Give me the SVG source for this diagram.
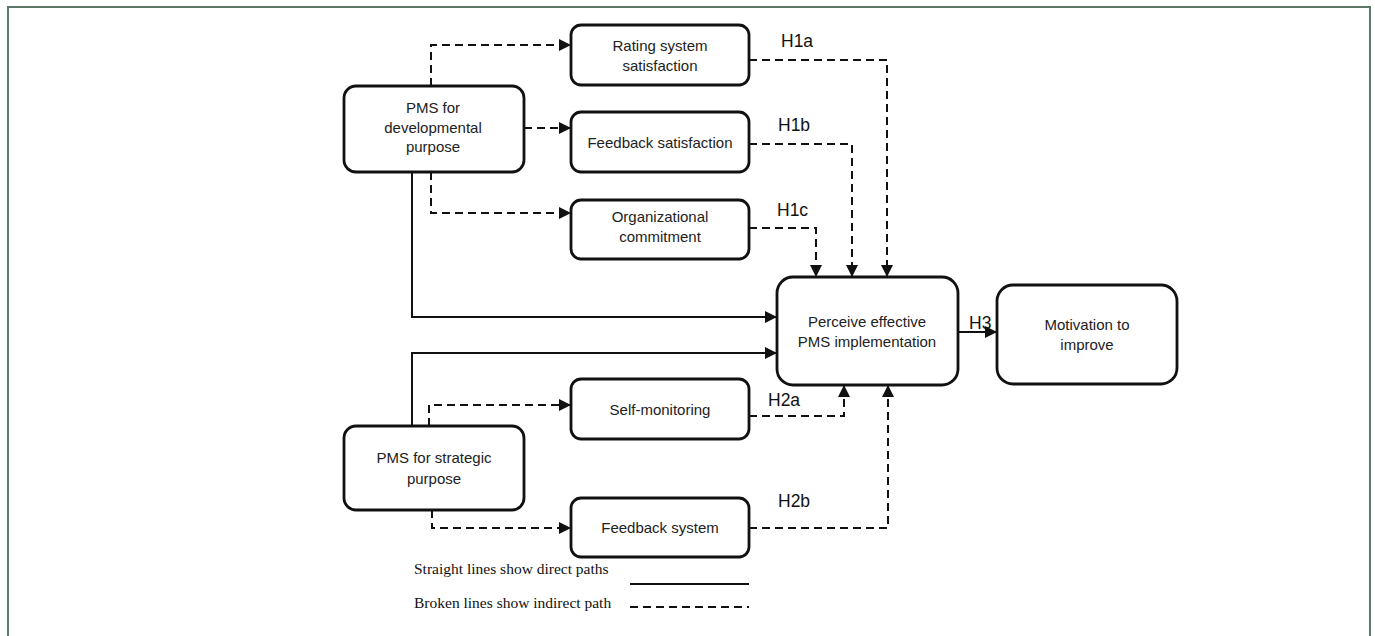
<svg xmlns="http://www.w3.org/2000/svg" width="1375" height="636" viewBox="0 0 1375 636">
<style>
.box{fill:#fff;stroke:#111;stroke-width:2.8}
.t{font-family:"Liberation Sans",Arial,sans-serif;font-size:15px;fill:#222;text-anchor:middle}
.h{font-family:"Liberation Sans",Arial,sans-serif;font-size:17.5px;fill:#111}
.lg{font-family:"Liberation Serif","Times New Roman",serif;font-size:15.5px;fill:#111}
.c{fill:none;stroke:#111;stroke-width:2}
.d{stroke-dasharray:8 5}
</style>
<defs>
<marker id="ah" markerUnits="userSpaceOnUse" markerWidth="12" markerHeight="12" refX="10" refY="5" orient="auto" viewBox="0 0 10 10">
<path d="M0,0 L10,5 L0,10 Z" fill="#111"/>
</marker>
</defs>
<rect width="1375" height="636" fill="#fff"/>
<path d="M8,636 V7 H1370 V636" fill="none" stroke="#5b7868" stroke-width="2"/>

<g id="connectors">
<path class="c d" d="M431,86 V45 H571" marker-end="url(#ah)"/>
<path class="c d" d="M524,128 H571" marker-end="url(#ah)"/>
<path class="c d" d="M431,172 V213 H571" marker-end="url(#ah)"/>
<path class="c d" d="M749,60 H887 V277" marker-end="url(#ah)"/>
<path class="c d" d="M749,144 H852 V277" marker-end="url(#ah)"/>
<path class="c d" d="M749,228 H816 V277" marker-end="url(#ah)"/>
<path class="c d" d="M429,426 V405 H571" marker-end="url(#ah)"/>
<path class="c d" d="M432,510 V528 H571" marker-end="url(#ah)"/>
<path class="c d" d="M749,416 H844 V385" marker-end="url(#ah)"/>
<path class="c d" d="M749,528 H888 V385" marker-end="url(#ah)"/>
<path class="c" d="M412,172 V317 H777" marker-end="url(#ah)"/>
<path class="c" d="M412,426 V353 H777" marker-end="url(#ah)"/>
<path class="c" d="M958,332 H997" marker-end="url(#ah)"/>
</g>

<g id="dev">
<rect class="box" x="344" y="86" width="180" height="86" rx="12"/>
<text class="t" x="433" y="113">PMS for</text>
<text class="t" x="433" y="133">developmental</text>
<text class="t" x="433" y="152">purpose</text>
</g>
<g id="rating">
<rect class="box" x="571" y="25" width="178" height="60" rx="10"/>
<text class="t" x="660" y="51">Rating system</text>
<text class="t" x="660" y="71">satisfaction</text>
</g>
<g id="fbsat">
<rect class="box" x="571" y="112" width="178" height="60" rx="10"/>
<text class="t" x="660" y="148">Feedback satisfaction</text>
</g>
<g id="org">
<rect class="box" x="571" y="200" width="178" height="59" rx="10"/>
<text class="t" x="660" y="222">Organizational</text>
<text class="t" x="660" y="242">commitment</text>
</g>
<g id="perceive">
<rect class="box" x="777" y="277" width="181" height="108" rx="16"/>
<text class="t" x="867" y="327">Perceive effective</text>
<text class="t" x="867" y="347">PMS implementation</text>
</g>
<g id="motivation">
<rect class="box" x="997" y="285" width="180" height="99" rx="16"/>
<text class="t" x="1087" y="330">Motivation to</text>
<text class="t" x="1087" y="350">improve</text>
</g>
<g id="selfmon">
<rect class="box" x="571" y="379" width="178" height="60" rx="10"/>
<text class="t" x="660" y="415">Self-monitoring</text>
</g>
<g id="strategic">
<rect class="box" x="344" y="426" width="180" height="84" rx="12"/>
<text class="t" x="434" y="463">PMS for strategic</text>
<text class="t" x="434" y="484">purpose</text>
</g>
<g id="fbsys">
<rect class="box" x="571" y="498" width="178" height="59" rx="10"/>
<text class="t" x="660" y="533">Feedback system</text>
</g>

<g id="labels">
<text class="h" x="781" y="47">H1a</text>
<text class="h" x="778" y="131">H1b</text>
<text class="h" x="777" y="216">H1c</text>
<text class="h" x="768" y="406">H2a</text>
<text class="h" x="778" y="507">H2b</text>
<text class="h" x="969" y="329">H3</text>
</g>

<g id="legend">
<text class="lg" x="414" y="574">Straight lines show direct paths</text>
<line class="c" x1="630" y1="584" x2="749" y2="584"/>
<text class="lg" x="414" y="608">Broken lines show indirect path</text>
<line class="c d" x1="630" y1="607" x2="749" y2="607"/>
</g>
</svg>
